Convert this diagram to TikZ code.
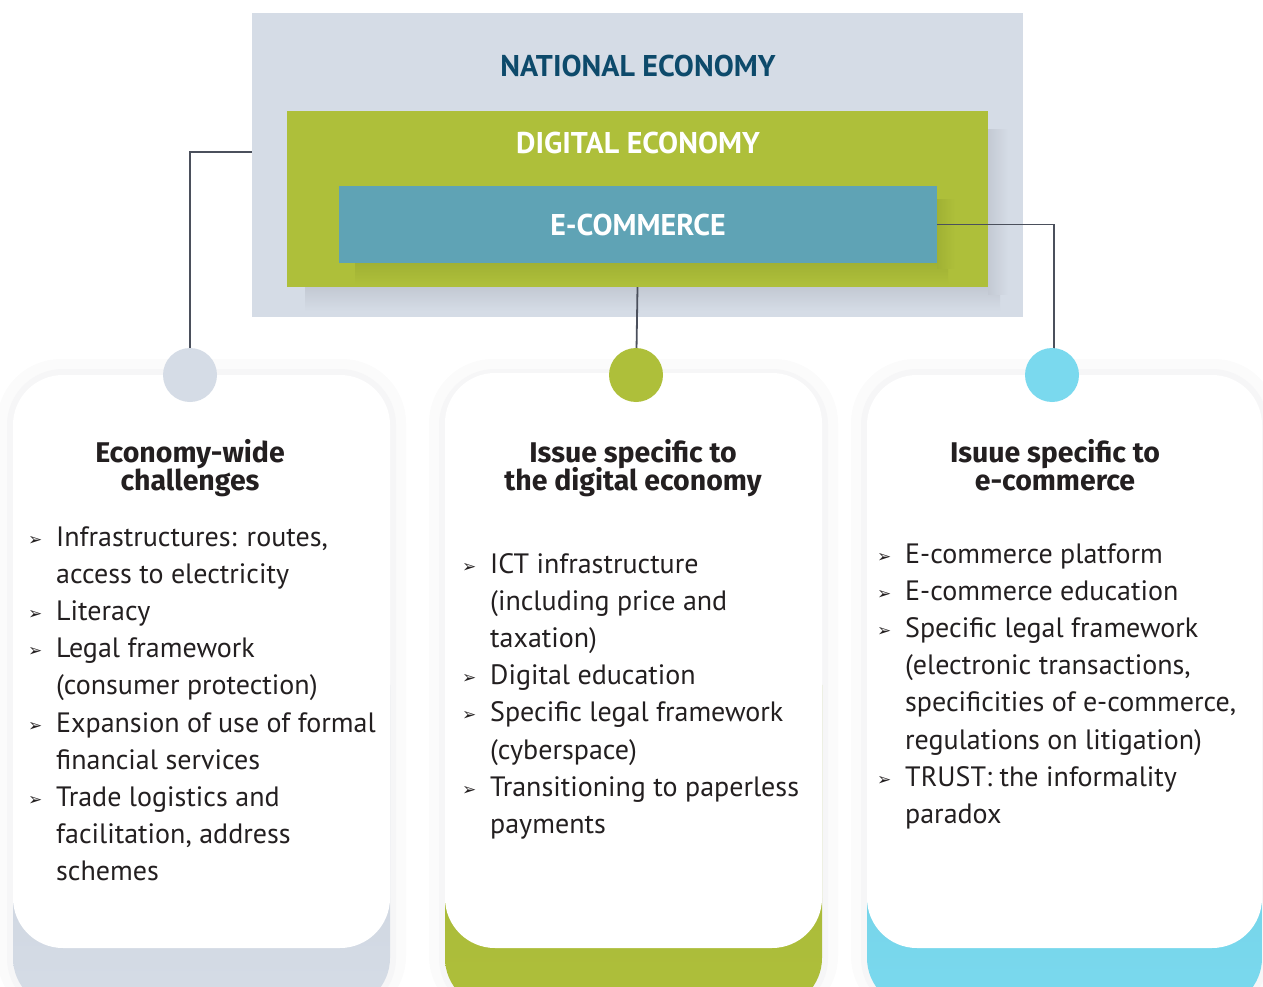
\documentclass[tikz,border=0pt]{standalone}
\usepackage{fontspec}
\setmainfont{PT Sans}
\newfontfamily\headfont{Fira Sans}
\newfontfamily\symfont{DejaVu Sans}
\usetikzlibrary{positioning}

\definecolor{natgray}{HTML}{D5DCE6}
\definecolor{natshade}{HTML}{C3C9D3}
\definecolor{natback}{HTML}{C6CDD8}
\definecolor{diggreen}{HTML}{AEBF3A}
\definecolor{digshade}{HTML}{A0B134}
\definecolor{digback}{HTML}{A3B338}
\definecolor{ecomteal}{HTML}{5FA3B5}
\definecolor{ecomcyan}{HTML}{7AD9EE}
\definecolor{ecomback}{HTML}{6FCBE1}
\definecolor{navytext}{HTML}{0D4A6B}
\definecolor{linegray}{HTML}{4B505C}
\definecolor{bodytext}{HTML}{231F20}
\definecolor{haloout}{HTML}{FBFBFB}
\definecolor{haloin}{HTML}{F6F6F7}

\newcommand{\bul}{\makebox[28pt][l]{\raisebox{1pt}{\symfont\fontsize{17}{17}\selectfont ➢}}}
\newcommand{\ind}{\hspace*{28pt}}
\newcommand{\tightlines}{\lineskiplimit=-20pt\relax}

\tikzset{
  tier/.style={inner sep=0, font=\fontsize{30}{30}\selectfont\bfseries},
  link/.style={draw=linegray, line width=1.8pt},
  dot/.style={circle, minimum size=54pt, inner sep=0},
  card/.style={fill=white, rounded corners=50pt, inner sep=0},
  cardhead/.style={anchor=north, align=center, inner sep=0, font=\headfont\fontsize{28.5}{28.5}\selectfont\bfseries\tightlines, text=bodytext},
  cardlist/.style={anchor=base west, inner sep=0, font=\fontsize{28}{37.2}\selectfont, text=bodytext}
}

\begin{document}
\begin{tikzpicture}[x=1pt,y=-1pt]
  \path[use as bounding box] (0,0) rectangle (1263,987);
  \clip (0,0) rectangle (1263,987);

  % nested economy boxes
  \node[fill=natgray, minimum width=771pt, minimum height=304pt, inner sep=0] (nat) at (637.5,165) {};
  % soft shadows of the inner boxes
  \shade[top color=natshade, bottom color=natgray] (305,287) rectangle (1000,311);
  \shade[left color=natshade, right color=natgray] (988,130) rectangle (1008,294);
  \node[fill=diggreen, minimum width=701pt, minimum height=176pt, inner sep=0] (dig) at (637.5,199) {};
  \shade[top color=digshade, bottom color=diggreen] (355,263) rectangle (948,284);
  \shade[left color=digshade, right color=diggreen] (937,200) rectangle (955,268);
  \node[fill=ecomteal, minimum width=598pt, minimum height=77pt, tier, text=white] (ecom) at (638,224.5) {E-COMMERCE};
  \node[tier, text=navytext] (natlabel) at (638,66) {NATIONAL ECONOMY};
  \node[tier, text=white] (diglabel) at (638,143) {DIGITAL ECONOMY};

  % faint halo round the cards
  \foreach \xa/\xb in {13/390, 445/822, 867/1262} {
    \fill[haloout, rounded corners=64pt] (\xa-16,359) rectangle (\xb+16,1020);
    \fill[haloin, rounded corners=56pt] (\xa-6,369) rectangle (\xb+6,1014);
  }

  % coloured feet under the cards
  \shade[top color=natback, bottom color=natgray, rounded corners=50pt] (13,635) rectangle (390,1008);
  \shade[top color=digback, bottom color=diggreen, rounded corners=50pt] (445,635) rectangle (822,1008);
  \shade[top color=ecomback, bottom color=ecomcyan, rounded corners=50pt] (867,635) rectangle (1262,1008);

  % the three cards
  \node[card, minimum width=377pt, minimum height=573pt] (lcard) at (201.5,661.5) {};
  \node[card, minimum width=377pt, minimum height=575pt] (mcard) at (633.5,660.5) {};
  \node[card, minimum width=395pt, minimum height=573pt] (rcard) at (1064.5,661.5) {};

  \draw[link] ([yshift=13pt]nat.west) -| (190,350);
  \draw[link] (dig.south) -- (636.5,350);
  \draw[link] (ecom.east) -| (1054,350);

  \node[dot, fill=natgray] (lcirc) at (190,375) {};
  \node[dot, fill=diggreen] (mcirc) at (636,375) {};
  \node[dot, fill=ecomcyan] (rcirc) at (1052,375) {};

  \node[cardhead] (lhead) at (190,439) {Economy-wide\\challenges};
  \node[cardhead] (mhead) at (633,439) {Issue specific to\\the digital economy};
  \node[cardhead] (rhead) at (1055,439) {Isuue specific to\\e-commerce};

  \node[cardlist] (llist) at (28,546) {\begin{tabular}[t]{@{}l@{}}
    \bul Infrastructures: routes,\\
    \ind access to electricity\\
    \bul Literacy\\
    \bul Legal framework\\
    \ind (consumer protection)\\
    \bul Expansion of use of formal\\
    \ind financial services\\
    \bul Trade logistics and\\
    \ind facilitation, address\\
    \ind schemes
  \end{tabular}};

  \node[cardlist] (mlist) at (462,573) {\begin{tabular}[t]{@{}l@{}}
    \bul ICT infrastructure\\
    \ind (including price and\\
    \ind taxation)\\
    \bul Digital education\\
    \bul Specific legal framework\\
    \ind (cyberspace)\\
    \bul Transitioning to paperless\\
    \ind payments
  \end{tabular}};

  \node[cardlist] (rlist) at (877,563) {\begin{tabular}[t]{@{}l@{}}
    \bul E-commerce platform\\
    \bul E-commerce education\\
    \bul Specific legal framework\\
    \ind (electronic transactions,\\
    \ind specificities of e-commerce,\\
    \ind regulations on litigation)\\
    \bul TRUST: the informality\\
    \ind paradox
  \end{tabular}};
\end{tikzpicture}
\end{document}
